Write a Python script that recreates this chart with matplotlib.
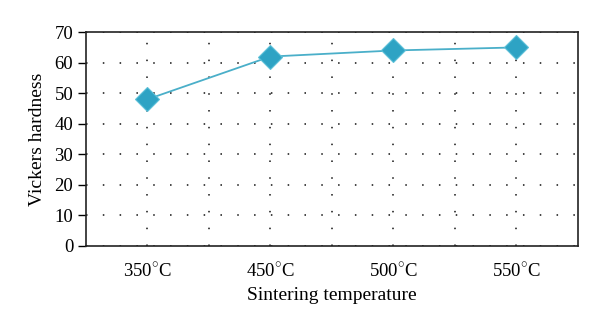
import matplotlib
matplotlib.use("Agg")
import matplotlib.pyplot as plt
from matplotlib.ticker import MultipleLocator

categories = ["350$^{\\circ}$C", "450$^{\\circ}$C", "500$^{\\circ}$C", "550$^{\\circ}$C"]
hardness = [48, 62, 64, 65]

plt.rcParams['font.family'] = ['Liberation Serif', 'DejaVu Serif']
plt.rcParams['mathtext.fontset'] = 'custom'
plt.rcParams['mathtext.rm'] = 'Liberation Serif'

fig = plt.figure(figsize=(6, 3.28), dpi=100)
ax = fig.add_axes([0.143, 0.25, 0.82, 0.652])

x = list(range(len(categories)))
ax.plot(x, hardness, color='#4aafc9', lw=1.3, zorder=3)
ax.plot(x, hardness, ls='none', marker='D', ms=12, mfc='#2ea3c4', mec='#5cc0d8', mew=0.8, zorder=4)

ax.set_xlim(-0.5, len(categories) - 0.5)
ax.set_ylim(0, 70)
ax.yaxis.set_major_locator(MultipleLocator(10))
ax.set_xticks(x)
ax.set_xticklabels(categories, fontsize=13.5)
ax.set_xticks([i + 0.5 for i in x[:-1]], minor=True)
ax.tick_params(axis='x', which='both', length=0, pad=11)
ax.tick_params(axis='y', length=6, width=1, labelsize=13.5, pad=3)

grid_style = dict(ls=(0, (1, 10)), color='#111111', lw=1.1)
ax.grid(True, which='major', axis='both', **grid_style)
ax.grid(True, which='minor', axis='x', **grid_style)
ax.set_axisbelow(True)

for s in ax.spines.values():
    s.set_linewidth(1.2)
    s.set_color('#222222')

ax.set_ylabel("Vickers hardness", fontsize=14, labelpad=6)
ax.set_xlabel("Sintering temperature", fontsize=14, labelpad=5)

fig.savefig("out.png", dpi=100, facecolor='white')
